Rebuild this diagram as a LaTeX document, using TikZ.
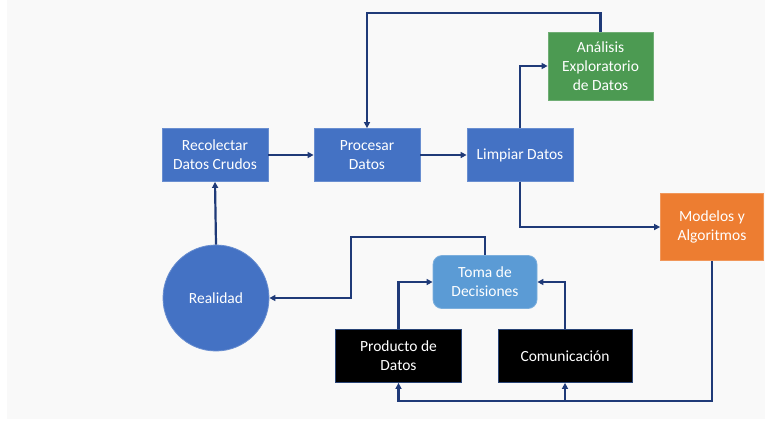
\documentclass[tikz,border=0pt]{standalone}
\usepackage{fontspec}
\setmainfont{Carlito}
\usetikzlibrary{arrows.meta}

\definecolor{pagebg}{HTML}{F9F9F9}
\definecolor{linknavy}{HTML}{1F3A78}
\definecolor{boxblue}{HTML}{4472C4}
\definecolor{boxgreen}{HTML}{4C9A52}
\definecolor{boxorange}{HTML}{ED7D31}
\definecolor{boxlight}{HTML}{5B9BD5}

\tikzset{
  stage/.style={draw=#1!80!white, line width=0.8pt, fill=#1, text=white,
    align=center, inner sep=0pt, minimum height=53pt,
    font=\fontsize{15.5}{19}\selectfont},
  link/.style={draw=linknavy, line width=2.2pt,
    -{Triangle[length=6pt,width=6pt]}},
}

\begin{document}
\begin{tikzpicture}[x=1pt,y=-1pt]
  \useasboundingbox (0,0) rectangle (765,421);
  \fill[white] (0,0) rectangle (765,421);
  \fill[pagebg] (7,0) rectangle (765,419);

  % pipeline stages
  \node[stage=boxblue, minimum width=106pt] (rec) at (215,155) {Recolectar\\Datos Crudos};
  \node[stage=boxblue, minimum width=106pt] (pro) at (367,155) {Procesar\\Datos};
  \node[stage=boxblue, minimum width=106pt] (lim) at (520,155) {Limpiar Datos};
  \node[stage=boxgreen, minimum width=105pt, minimum height=68pt] (ana) at (600.5,66) {Análisis\\Exploratorio\\de Datos};
  \node[stage=boxorange, minimum width=103pt, minimum height=67pt] (mod) at (712,227) {Modelos y\\Algoritmos};
  \node[stage=boxblue, circle, minimum size=106pt] (rea) at (216,298) {Realidad};
  \node[stage=boxlight, rounded corners=9pt, minimum width=104pt] (tom) at (485,282) {Toma de\\Decisiones};
  \node[stage=black, draw=boxblue!60!black, minimum width=126pt] (prd) at (398.5,356) {Producto de\\Datos};
  \node[stage=black, draw=boxblue!60!black, minimum width=134pt] (com) at (565,356) {Comunicación};

  % bend points of the routed connectors
  \coordinate (topline) at (367,13);
  \coordinate (backline) at (351,237);
  \coordinate (busline) at (0,401);

  % connectors
  \draw[link] (rec) -- (pro);
  \draw[link] (pro) -- (lim);
  \draw[link] (lim.north) |- (ana.west);
  \draw[link] (ana.north) |- (topline) -- (pro.north);
  \draw[link] (lim.south) |- (mod.west);
  \draw[link] (mod.south) |- (busline -| prd.south) -- (prd.south);
  \draw[link] (com.south |- busline) -- (com.south);
  \draw[link] (prd.north) |- (tom.west);
  \draw[link] (com.north) |- (tom.east);
  \draw[link] (tom.north) |- (backline) |- (rea.east);
  \draw[link] (rea.north) -- (rec.south);
\end{tikzpicture}
\end{document}
